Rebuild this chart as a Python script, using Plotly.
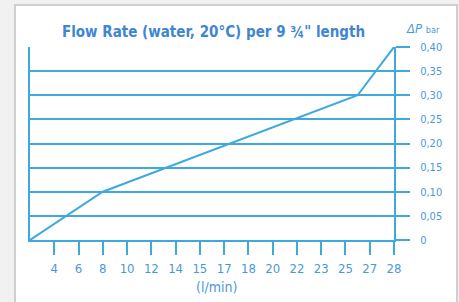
import plotly.graph_objects as go

W, H = 459, 302

# Data
flow_labels = ["4", "6", "8", "10", "12", "14", "15", "17", "18", "20", "22", "23", "25", "27", "28"]
flow_positions = list(range(1, len(flow_labels) + 1))
line_pos = [0, 3, 13.5, 15]
dp_values = [0, 0.10, 0.30, 0.40]
dp_ticks = [0, 0.05, 0.10, 0.15, 0.20, 0.25, 0.30, 0.35, 0.40]
dp_labels = ["0", "0,05", "0,10", "0,15", "0,20", "0,25", "0,30", "0,35", "0,40"]

BLUE = "#3fa9df"
TXT = "#4a98dc"
TITLE = "#3f86d2"
FONT = "DejaVu Sans Condensed, Liberation Sans, sans-serif"

def px_x(x):
    return x / W

def px_y(y):
    return 1 - y / H

fig = go.Figure()
fig.add_trace(go.Scatter(x=line_pos, y=dp_values, mode="lines",
                         line=dict(color=BLUE, width=2), showlegend=False,
                         hoverinfo="skip"))

fig.update_layout(
    width=W, height=H,
    margin=dict(l=0, r=0, t=0, b=0),
    paper_bgcolor="#f1f1f1",
    plot_bgcolor="rgba(0,0,0,0)",
    xaxis=dict(
        domain=[px_x(30), px_x(394)],
        range=[0, 15], anchor="y", automargin=False,
        tickmode="array", tickvals=flow_positions, ticktext=flow_labels,
        ticks="outside", ticklen=13, tickwidth=2, tickcolor=BLUE,
        showline=True, linecolor=BLUE, linewidth=2,
        showgrid=False, zeroline=False,
        tickfont=dict(family=FONT, size=13, color=TXT),
        ticklabelstandoff=2,
        fixedrange=True,
    ),
    yaxis=dict(
        domain=[px_y(240), px_y(47)],
        range=[0, 0.40], side="right", anchor="x", automargin=False,
        tickmode="array", tickvals=dp_ticks, ticktext=dp_labels,
        ticks="outside", ticklen=14, tickwidth=2, tickcolor=BLUE,
        showline=True, mirror=True, linecolor=BLUE, linewidth=2,
        showgrid=True, gridcolor=BLUE, gridwidth=2, zeroline=False,
        tickfont=dict(family=FONT, size=11, color=TXT),
        ticklabelstandoff=8,
        fixedrange=True,
    ),
    shapes=[
        dict(type="rect", xref="paper", yref="paper",
             x0=px_x(15), x1=px_x(457), y0=-0.02, y1=px_y(5),
             line=dict(color="#cfcfcf", width=2), fillcolor="white", layer="below"),
    ],
    annotations=[
        dict(text='<b>Flow Rate (water, 20°C) per 9 ¾" length</b>', xref="paper", yref="paper",
             x=px_x(213), y=px_y(32), showarrow=False, xanchor="center", yanchor="middle",
             font=dict(family=FONT, size=15, color=TITLE)),
        dict(text="<i>ΔP</i> <span style='font-size:9px'>bar</span>", xref="paper", yref="paper",
             x=px_x(404), y=px_y(28), showarrow=False, xanchor="left", yanchor="middle",
             font=dict(family=FONT, size=13, color=TXT)),
        dict(text="(l/min)", xref="paper", yref="paper",
             x=px_x(216), y=px_y(287), showarrow=False, xanchor="center", yanchor="middle",
             font=dict(family=FONT, size=14, color=TXT)),
    ],
)

fig.write_html("out.html", config={"displayModeBar": False},
               post_script="document.body.style.margin='0';document.body.style.overflow='hidden';")
